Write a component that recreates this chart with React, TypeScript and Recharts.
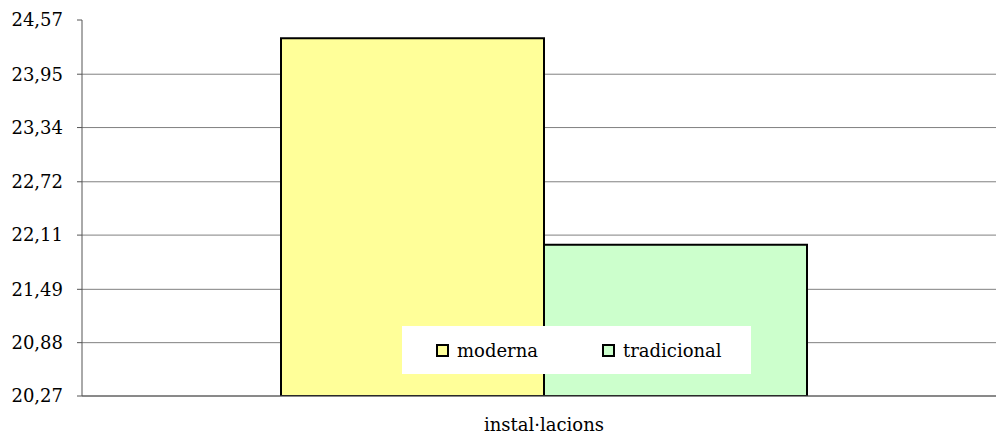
import { BarChart, Bar, XAxis, YAxis, CartesianGrid } from "recharts";

const categories = ["instal·lacions"];
const modernaValues = [24.36];
const tradicionalValues = [22.0];
const yTicks = [20.27, 20.88, 21.49, 22.11, 22.72, 23.34, 23.95, 24.57];

const seriesNames = ["moderna", "tradicional"];
const seriesColors = ["#FFFF99", "#CCFFCC"];

const data = categories.map((name, i) => ({
  name,
  moderna: modernaValues[i],
  tradicional: tradicionalValues[i],
}));

const FONT = "'DejaVu Serif', serif";

// legend drawn as an overlay so it does not shrink the plot area
const LegendBox = () => (
  <div
    style={{
      position: "absolute",
      left: 402,
      top: 326,
      background: "#fff",
      width: 349,
      height: 48,
      display: "flex",
      alignItems: "center",
      fontFamily: FONT,
      fontSize: 18,
      color: "#000",
    }}
  >
    {seriesNames.map((name, i) => (
      <div
        key={name}
        style={{
          display: "flex",
          alignItems: "center",
          marginLeft: i === 0 ? 34 : 0,
          width: i === 0 ? 166 : "auto",
        }}
      >
        <span
          style={{
            display: "inline-block",
            width: 9,
            height: 9,
            border: "2px solid #000",
            background: seriesColors[i],
            marginRight: 8,
          }}
        />
        <span>{name}</span>
      </div>
    ))}
  </div>
);

const App = () => {
  return (
    <div
      style={{
        position: "fixed",
        left: 0,
        top: 0,
        width: 996,
        height: 438,
        overflow: "hidden",
        background: "#fff",
      }}
    >
      <BarChart
        width={1006}
        height={438}
        data={data}
        margin={{ top: 20, right: 0, bottom: 0, left: 0 }}
        barGap={0}
      >
        <CartesianGrid
          vertical={false}
          stroke="#808080"
          horizontalValues={yTicks.slice(0, -1)}
        />
        <XAxis
          dataKey="name"
          height={42}
          tickLine={false}
          axisLine={{ stroke: "#555" }}
          tick={{ fontSize: 18, fill: "#000", fontFamily: FONT }}
          tickMargin={16}
        />
        <YAxis
          width={82}
          domain={[yTicks[0], yTicks[yTicks.length - 1]]}
          ticks={yTicks}
          interval={0}
          allowDataOverflow
          tickSize={5}
          tickMargin={14}
          tickLine={{ stroke: "#555" }}
          axisLine={{ stroke: "#555" }}
          tick={{ fontSize: 18, fill: "#000", fontFamily: FONT }}
          tickFormatter={(v: number) => v.toFixed(2).replace(".", ",")}
        />
        <Bar
          dataKey="moderna"
          name={seriesNames[0]}
          fill={seriesColors[0]}
          stroke="#000"
          strokeWidth={2}
          barSize={263}
          isAnimationActive={false}
        />
        <Bar
          dataKey="tradicional"
          name={seriesNames[1]}
          fill={seriesColors[1]}
          stroke="#000"
          strokeWidth={2}
          barSize={263}
          isAnimationActive={false}
        />
      </BarChart>
      <LegendBox />
    </div>
  );
};

export default App;
